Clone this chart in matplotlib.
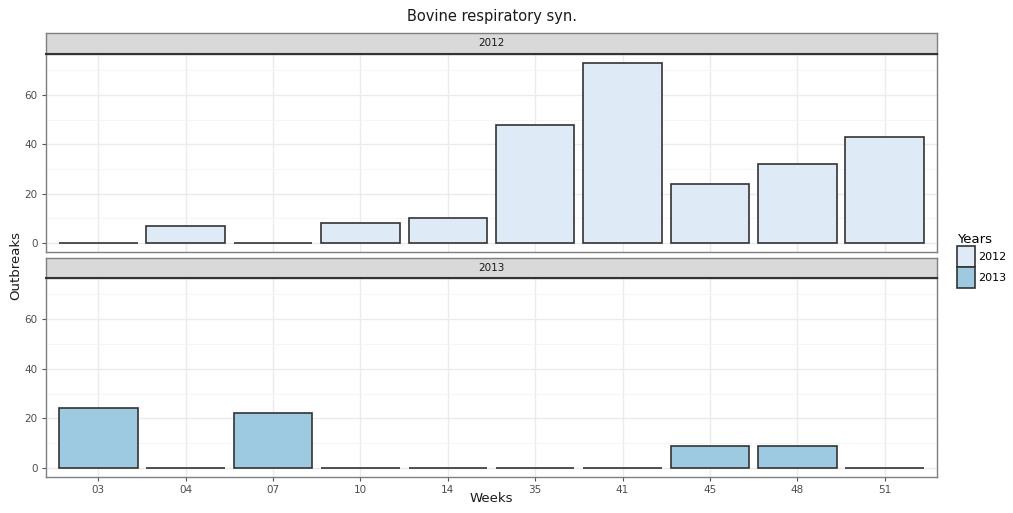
import matplotlib
matplotlib.use("Agg")
import matplotlib.pyplot as plt
from matplotlib.patches import Patch
import numpy as np

weeks = ["03", "04", "07", "10", "14", "35", "41", "45", "48", "51"]
years = ["2012", "2013"]
outbreaks_2012 = [0, 7, 0, 8, 10, 48, 73, 24, 32, 43]
outbreaks_2013 = [24, 0, 22, 0, 0, 0, 0, 9, 9, 0]
colors = {"2012": "#deebf7", "2013": "#9ecae1"}
yticks = [0, 20, 40, 60]

fig = plt.figure(figsize=(10.13, 5.13), dpi=100)
W, H = 1013, 513

def fx(px):
    return px / W

def fy(py):
    return 1 - py / H

left, right = 46, 937
panels = [("2012", outbreaks_2012, 33, 54, 252), ("2013", outbreaks_2013, 258, 278, 477)]
x = np.arange(len(weeks))
ymax = max(max(outbreaks_2012), max(outbreaks_2013))
axes = []
for yr, vals, st, pt, pb in panels:
    ax = fig.add_axes([fx(left), fy(pb), fx(right) - fx(left), fy(pt) - fy(pb)])
    axes.append(ax)
    ax.bar(x, vals, width=0.9, color=colors[yr], edgecolor="#333333", linewidth=1.2, zorder=3)
    ax.set_xlim(-0.6, len(weeks) - 0.4)
    ax.set_ylim(-0.05 * ymax, ymax * 1.05)
    ax.set_yticks(yticks)
    ax.set_yticks([10, 30, 50, 70], minor=True)
    ax.set_xticks(x)
    ax.grid(True, which="major", color="#ebebeb", linewidth=1.0, zorder=0)
    ax.grid(True, which="minor", axis="y", color="#f4f4f4", linewidth=0.6, zorder=0)
    ax.tick_params(axis="both", which="major", length=3, color="#555555", labelsize=7.5,
                   labelcolor="#4d4d4d", pad=3)
    ax.tick_params(axis="y", which="minor", length=0)
    for s in ax.spines.values():
        s.set_color("#7f7f7f")
        s.set_linewidth(1.0)
    # strip
    sax = fig.add_axes([fx(left), fy(pt), fx(right) - fx(left), fy(st) - fy(pt)])
    sax.set_facecolor("#d9d9d9")
    sax.set_xticks([])
    sax.set_yticks([])
    for s in sax.spines.values():
        s.set_color("#7f7f7f")
        s.set_linewidth(1.0)
    sax.spines["bottom"].set_color("#333333")
    sax.spines["bottom"].set_linewidth(1.5)
    sax.text(0.5, 0.5, yr, ha="center", va="center", fontsize=7.5, color="#1a1a1a",
             transform=sax.transAxes)

axes[0].set_xticklabels([])
axes[0].tick_params(axis="x", length=0)
axes[1].set_xticklabels(weeks)

fig.text(fx((left + right) / 2), fy(17), "Bovine respiratory syn.", ha="center", va="center",
         fontsize=10.5, color="#1a1a1a")
fig.text(fx((left + right) / 2), fy(499), "Weeks", ha="center", va="center", fontsize=9.5,
         color="#1a1a1a")
fig.text(fx(16), fy(265), "Outbreaks", ha="center", va="center", rotation=90, fontsize=9.5,
         color="#1a1a1a")

# legend
handles = [Patch(facecolor=colors[y], edgecolor="#333333", linewidth=1.2, label=y) for y in years]
leg = fig.legend(handles=handles, title="Years", loc="upper left",
                 bbox_to_anchor=(fx(957), fy(233)), frameon=False, fontsize=8,
                 title_fontsize=9.5, handlelength=1.6, handleheight=2.5, handletextpad=0.3,
                 labelspacing=0.0, borderaxespad=0, borderpad=0)
leg._legend_box.align = "left"

fig.savefig("out.png", dpi=100)
